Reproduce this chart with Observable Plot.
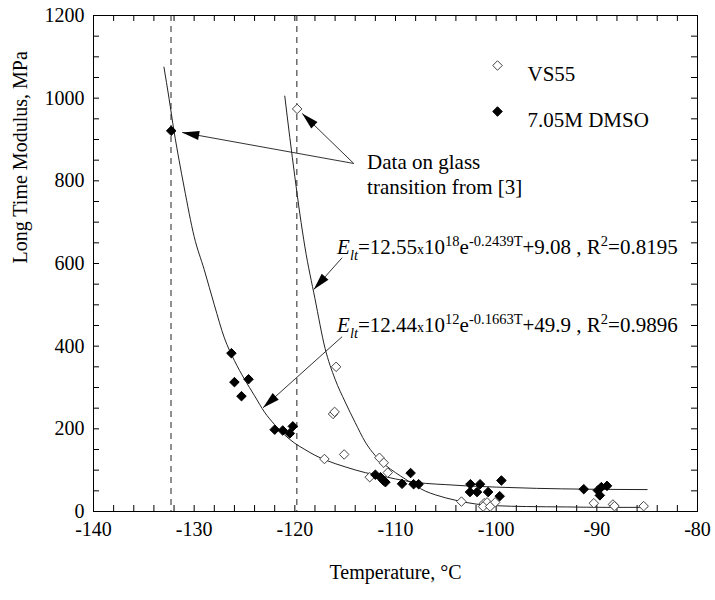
<!DOCTYPE html>
<html><head><meta charset="utf-8">
<script src="https://cdn.jsdelivr.net/npm/d3@7"></script>
<script src="https://cdn.jsdelivr.net/npm/@observablehq/plot@0.6"></script>
<style>body{margin:0;background:#fff} svg text{font-family:"Liberation Serif","Times New Roman",serif}</style>
</head><body>
<div id="chart"></div>
<script>
// ---------- data ----------
const vs55T = [-119.77, -115.9, -116.2, -116.05, -115.1, -117.06, -111.6, -111.17, -110.77, -112.56, -103.45, -101.2, -100.9, -100.1, -101.3, -100.6, -90.3, -88.4, -88.25, -85.35];
const vs55E = [974, 350, 236, 241, 138, 127, 130, 118, 94, 83, 24, 20, 22, 22, 12, 12, 20, 17, 13, 13];

const dmsoT = [-132.28, -126.3, -126.0, -124.6, -125.3, -122.0, -121.2, -120.5, -120.2, -112.0, -111.5, -111.2, -111.0, -109.35, -108.5, -108.2, -107.7, -102.56, -101.6, -102.6, -101.9, -100.8, -99.48, -99.65, -91.3, -89.9, -89.55, -88.99, -89.7];
const dmsoE = [921, 383, 313, 320, 279, 198, 196, 189, 206, 89, 83, 75, 71, 67, 93, 66, 66, 66, 66, 47, 47, 47, 75, 37, 54, 51, 59, 62, 39];

// fitted curves as drawn in the picture
const vs55FitT = [-121.0, -120.5, -120.0, -119.5, -119.0, -118.0, -117.0, -116.0, -115.0, -114.0, -113.0, -112.0, -111.0, -110.0, -109.0, -108.0, -107.0, -106.0, -104.0, -102.0, -100.0, -97.0, -93.0, -89.0, -85.0];
const vs55FitE = [1005, 905, 810, 720, 640, 515, 395, 320, 265, 215, 168, 135, 112, 94, 78, 62, 49, 40, 27, 18, 14, 12, 11, 10, 10];

const dmsoFitT = [-133.0, -132.5, -132.0, -131.5, -131.0, -130.0, -129.0, -128.0, -127.0, -126.0, -125.0, -124.0, -123.0, -122.0, -121.0, -120.0, -119.0, -118.0, -117.0, -115.0, -113.0, -111.0, -109.0, -107.0, -105.0, -103.0, -100.0, -96.0, -91.0, -85.0];
const dmsoFitE = [1075, 1000, 920, 850, 785, 665, 585, 500, 420, 365, 320, 280, 240, 210, 185, 165, 150, 136, 125, 108, 94, 84, 74, 68, 65, 62, 59, 56, 54, 53];

// glass transition temperatures (dashed lines)
const glassT = [-132.3, -119.8];

// tick labels
const xTickValues = [-140, -130, -120, -110, -100, -90, -80];
const yTickValues = [0, 200, 400, 600, 800, 1000, 1200];

// legend
const legendNames = ["VS55", "7.05M DMSO"];
const legendFill = ["white", "black"];

// annotations
const glassNote = "Data on glass\ntransition from [3]";
const arrowFromT = [-114.15, -114.15, -115.3, -115.3];
const arrowFromE = [842, 842, 614, 423];
const arrowToT = [-119.27, -131.19, -118.12, -123.16];
const arrowToE = [963, 917, 537, 251];

const equations = [
  {T: -115.8, E: 622, segs: [["E","i"],["lt","sub"],["=12.55",""],["x","small"],["10",""],["18","sup"],["e",""],["-0.2439T","sup"],["+9.08 , R",""],["2","sup"],["=0.8195",""]]},
  {T: -115.8, E: 435, segs: [["E","i"],["lt","sub"],["=12.44",""],["x","small"],["10",""],["12","sup"],["e",""],["-0.1663T","sup"],["+49.9 , R",""],["2","sup"],["=0.9896",""]]}
];

// ---------- tables ----------
const vs55 = vs55T.map((t, i) => ({T: t, E: vs55E[i]}));
const dmso = dmsoT.map((t, i) => ({T: t, E: dmsoE[i]}));
const vs55Fit = vs55FitT.map((t, i) => ({T: t, E: vs55FitE[i]}));
const dmsoFit = dmsoFitT.map((t, i) => ({T: t, E: dmsoFitE[i]}));
const arrows = arrowFromT.map((t, i) => ({x1: t, y1: arrowFromE[i], x2: arrowToT[i], y2: arrowToE[i]}));
equations.forEach(e => e.key = e.segs.map(s => s[0]).join(""));

// ---------- layout ----------
const W = 715, H = 600, ml = 93, mr = 18, mt = 15, mb = 89;
const xDom = [-140, -80], yDom = [0, 1200];
const kx = (W - ml - mr) / (xDom[1] - xDom[0]);
const ky = (H - mt - mb) / (yDom[1] - yDom[0]);
const innerW = W - ml - mr, innerH = H - mt - mb;
const tickLen = 6;
const xMinor = d3.range(-140, -79, 2);
const yMinor = d3.range(0, 1201, 50);
const font = "Liberation Serif";

const rot = d => Math.atan2((d.x2 - d.x1) * kx, (d.y2 - d.y1) * ky) * 180 / Math.PI;

const legendMarks = legendNames.flatMap((name, i) => [
  Plot.dot([name], {frameAnchor: "top-left", dx: 404, dy: 50 + i * 46, symbol: "diamond2", r: 4.3, fill: legendFill[i], stroke: i ? "black" : "#444", strokeWidth: 1}),
  Plot.text([name], {frameAnchor: "top-left", dx: 434, dy: 51 + i * 46, textAnchor: "start", fontSize: 21, fontFamily: font})
]);

const plot = Plot.plot({
  width: W, height: H,
  marginLeft: ml, marginRight: mr, marginTop: mt, marginBottom: mb,
  x: {domain: xDom, axis: null},
  y: {domain: yDom, axis: null},
  style: {fontFamily: font, fontSize: "20px", color: "black", background: "white"},
  marks: [
    // inward ticks on all four sides
    Plot.ruleX(xMinor, {insetTop: innerH - tickLen, stroke: "black"}),
    Plot.ruleX(xMinor, {insetBottom: innerH - tickLen, stroke: "black"}),
    Plot.ruleY(yMinor, {insetRight: innerW - tickLen, stroke: "black"}),
    Plot.ruleY(yMinor, {insetLeft: innerW - tickLen, stroke: "black"}),
    Plot.frame({stroke: "black"}),
    // tick labels
    Plot.text(xTickValues, {x: d => d, text: d => String(d), frameAnchor: "bottom", dy: 24, fontSize: 20, fontFamily: font}),
    Plot.text(yTickValues, {y: d => d, text: d => String(d), frameAnchor: "left", dx: -9, textAnchor: "end", fontSize: 20, fontFamily: font}),
    // axis titles
    Plot.text(["Temperature, °C"], {frameAnchor: "bottom", dy: 67, fontSize: 20, fontFamily: font}),
    Plot.text(["Long Time Modulus, MPa"], {frameAnchor: "left", dx: -73, rotate: -90, fontSize: 20, fontFamily: font}),
    // glass transition lines
    Plot.ruleX(glassT, {stroke: "#222", strokeDasharray: "6,5", strokeWidth: 1}),
    // fits
    Plot.line(vs55Fit, {x: "T", y: "E", curve: "monotone-x", stroke: "#222", strokeWidth: 1}),
    Plot.line(dmsoFit, {x: "T", y: "E", curve: "monotone-x", stroke: "#222", strokeWidth: 1}),
    // annotation arrows
    Plot.link(arrows, {x1: "x1", y1: "y1", x2: "x2", y2: "y2", stroke: "#333", strokeWidth: 1}),
    Plot.vector(arrows, {x: "x2", y: "y2", rotate: rot, length: 17, r: 4.5, shape: "spike", anchor: "end", fill: "black", stroke: "none"}),
    // data
    Plot.dot(vs55, {x: "T", y: "E", symbol: "diamond2", r: 4.3, fill: "white", stroke: "#444", strokeWidth: 1}),
    Plot.dot(dmso, {x: "T", y: "E", symbol: "diamond2", r: 4.3, fill: "black", stroke: "black", strokeWidth: 1}),
    // legend
    ...legendMarks,
    // notes
    Plot.text([glassNote], {x: () => -112.82, y: () => 767.5, textAnchor: "start", lineAnchor: "bottom", lineHeight: 1.22, fontSize: 21, fontFamily: font}),
    Plot.text(equations, {x: "T", y: "E", text: "key", textAnchor: "start", lineAnchor: "bottom", fontSize: 21, fontFamily: font})
  ]
});

// rich text (sub/superscripts) for the equations
d3.select(plot).selectAll("text").each(function () {
  const eq = equations.find(e => e.key === this.textContent);
  if (!eq) return;
  const sel = d3.select(this);
  sel.text(null);
  let cur = 0;
  for (const [t, kind] of eq.segs) {
    const off = kind === "sub" ? 6 : kind === "sup" ? -8 : 0;
    const ts = sel.append("tspan").text(t).attr("dy", off - cur);
    cur = off;
    if (kind === "sub" || kind === "sup") ts.attr("font-size", 14.5);
    if (kind === "small") ts.attr("font-size", 14);
    if (kind === "i" || kind === "sub") ts.attr("font-style", "italic");
  }
});

document.getElementById("chart").appendChild(plot);
</script>
</body></html>
